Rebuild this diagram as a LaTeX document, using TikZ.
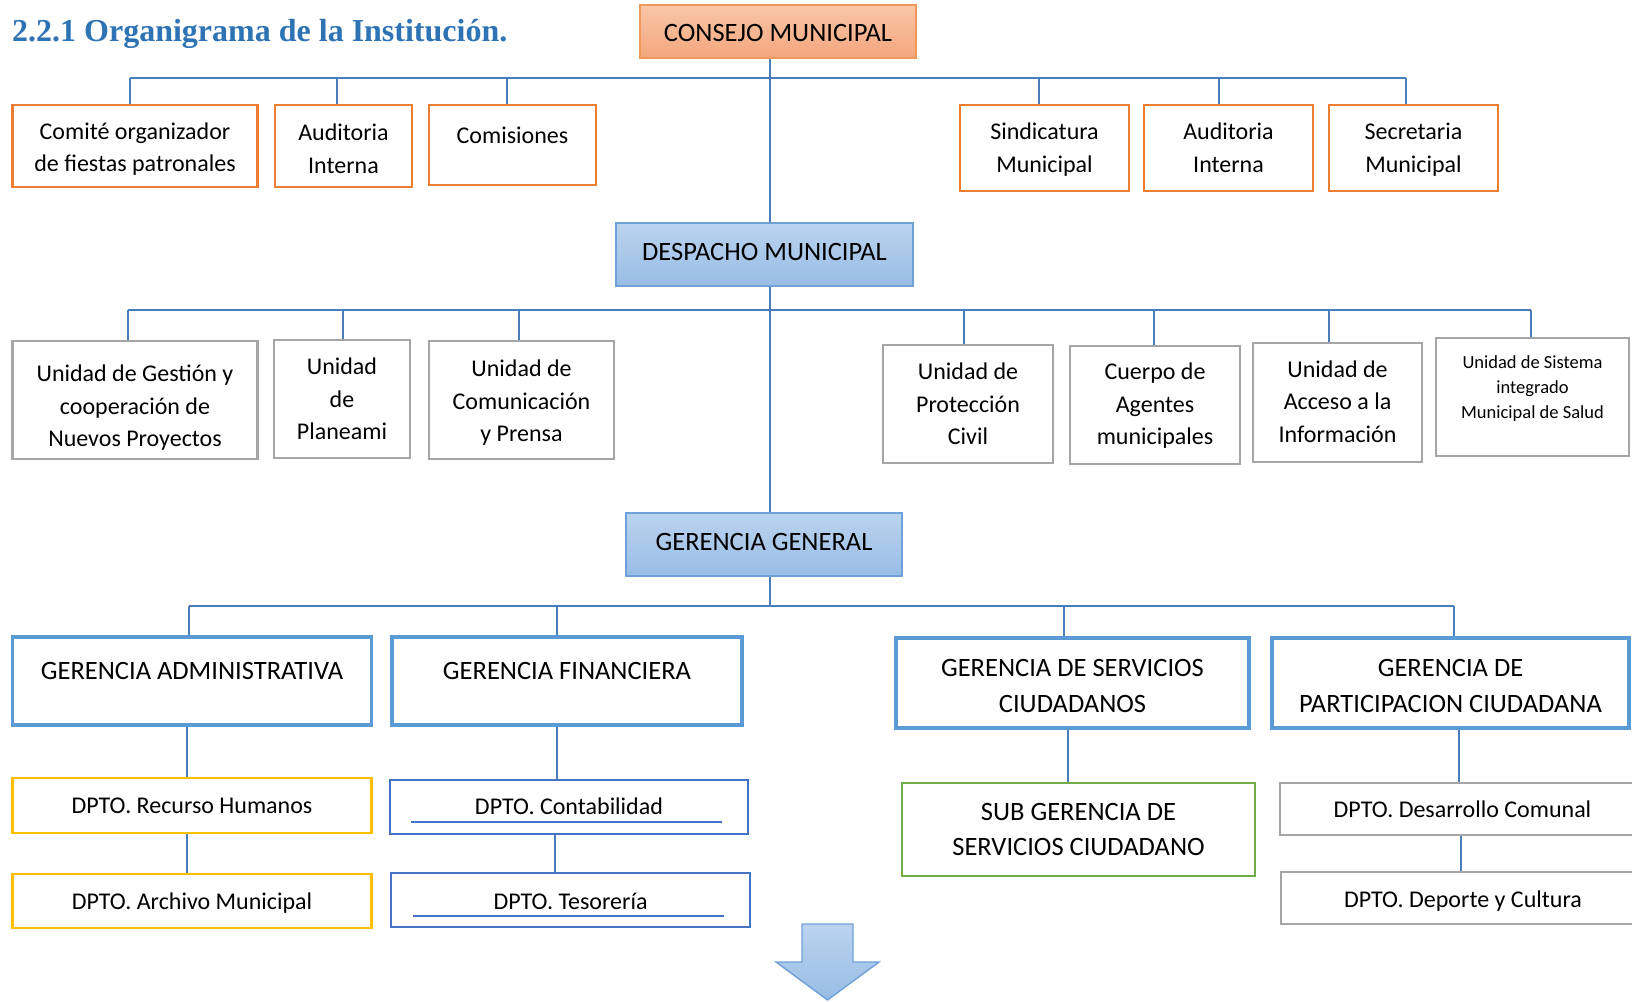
\documentclass[tikz,border=0pt]{standalone}
\usepackage{fontspec}
\setmainfont{Carlito}
\newfontfamily\titlefont{Liberation Serif}
\usetikzlibrary{calc}
\definecolor{conncol}{HTML}{4A7EBB}
\definecolor{orangeb}{HTML}{ED7D31}
\definecolor{grayb}{HTML}{A5A5A5}
\definecolor{blueb}{HTML}{5B9BD5}
\definecolor{darkblueb}{HTML}{4472C4}
\definecolor{yellowb}{HTML}{FFC000}
\definecolor{greenb}{HTML}{70AD47}
\definecolor{titleblue}{HTML}{2E74B5}
\definecolor{salmontop}{HTML}{F9C6A8}
\definecolor{salmonbot}{HTML}{F4A67C}
\definecolor{bluetop}{HTML}{BBD3EE}
\definecolor{bluebot}{HTML}{98BDE6}
\definecolor{blueedge}{HTML}{6FA0D8}
% #1 box style, #2 name, #3 cx, #4 cy, #5 width, #6 height, #7 font style, #8 text dy, #9 text
\newcommand{\orgbox}[9]{%
  \node[#1, minimum width=#5pt, minimum height=#6pt] (#2) at (#3,#4) {};
  \node[txt, #7] (#2-t) at ($(#2.center)+(0,#8)$) {#9};}
\begin{document}
\begin{tikzpicture}[x=1pt,y=-1pt,
  conn/.style={draw=conncol, line width=2.6pt},
  base/.style={rectangle, inner sep=0pt},
  obox/.style={base, draw=orangeb, line width=2.6pt, fill=white},
  gbox/.style={base, draw=grayb, line width=2.6pt, fill=white},
  bbox/.style={base, draw=blueb, line width=3.6pt, fill=white},
  ybox/.style={base, draw=yellowb, line width=2.6pt, fill=white},
  dbbox/.style={base, draw=darkblueb, line width=2.6pt, fill=white},
  grbox/.style={base, draw=greenb, line width=2.4pt, fill=white},
  salmonbox/.style={base, draw=orangeb!80, line width=1.4pt, top color=salmontop, bottom color=salmonbot},
  bluebox/.style={base, draw=blueedge, line width=1.4pt, top color=bluetop, bottom color=bluebot},
  txt/.style={align=center, inner sep=0pt},
  fbig/.style={font=\fontsize{26.5}{35.5}\selectfont},
  fnorm/.style={font=\fontsize{24}{32.5}\selectfont},
  fsmall/.style={font=\fontsize{18.5}{25}\selectfont},
  uline/.style={draw=darkblueb, line width=1.3pt}
]
\useasboundingbox (0,0) rectangle (1632,1001);
\fill[white] (0,0) rectangle (1632,1001);

% title
\node[txt, anchor=west, font=\titlefont\bfseries\fontsize{32}{36}\selectfont, text=titleblue] (title) at (12,34) {2.2.1 Organigrama de la Institución.};

% trunk coordinate
\coordinate (trk) at (770,0);

% top level
\orgbox{salmonbox}{consejo}{778}{31.5}{276}{53}{fbig}{1}{CONSEJO MUNICIPAL}
\orgbox{bluebox}{despacho}{764.5}{254.5}{297}{63}{fbig}{-3}{DESPACHO MUNICIPAL}
\orgbox{bluebox}{gg}{764}{544.5}{276}{63}{fbig}{-3}{GERENCIA GENERAL}

% row 1
\orgbox{obox}{comite}{135}{146}{245}{82}{fnorm}{3}{Comité organizador\\de fiestas patronales}
\orgbox{obox}{aud1}{343.5}{146}{137}{82}{fnorm}{3}{Auditoria\\Interna}
\orgbox{obox}{comis}{512.5}{145}{167}{80}{fnorm}{-10}{Comisiones}
\orgbox{obox}{sind}{1044.5}{148}{169}{86}{fnorm}{1.5}{Sindicatura\\Municipal}
\orgbox{obox}{aud2}{1228.5}{148}{169}{86}{fnorm}{0}{Auditoria\\Interna}
\orgbox{obox}{secret}{1413.5}{148}{169}{86}{fnorm}{1.5}{Secretaria\\Municipal}

% row 2
\orgbox{gbox}{gestion}{135}{400}{245}{118}{fnorm}{8}{Unidad de Gestión y\\cooperación de\\Nuevos Proyectos}
\orgbox{gbox}{planea}{342}{399}{136}{118}{fnorm}{0}{Unidad\\de\\Planeami}
\orgbox{gbox}{comun}{521.5}{400}{185}{118}{fnorm}{3}{Unidad de\\Comunicación\\y Prensa}
\orgbox{gbox}{proteccion}{968}{404}{170}{118}{fnorm}{0}{Unidad de\\Protección\\Civil}
\orgbox{gbox}{cuerpo}{1155}{405}{170}{118}{fnorm}{1}{Cuerpo de\\Agentes\\municipales}
\orgbox{gbox}{acceso}{1337.5}{402.5}{169}{119}{fnorm}{-1}{Unidad de\\Acceso a la\\Información}
\orgbox{gbox}{sistema}{1532.5}{397}{193}{118}{fsmall}{-8}{Unidad de Sistema\\integrado\\Municipal de Salud}

% row 3
\orgbox{bbox}{gadm}{192}{681}{359}{88}{fbig}{-10}{GERENCIA ADMINISTRATIVA}
\orgbox{bbox}{gfin}{567}{681}{350}{88}{fbig}{-10}{GERENCIA FINANCIERA}
\orgbox{bbox}{gsc}{1072.5}{683}{353}{90}{fbig}{3}{GERENCIA DE SERVICIOS\\CIUDADANOS}
\orgbox{bbox}{gpc}{1450.5}{683}{357}{90}{fbig}{3}{GERENCIA DE\\PARTICIPACION CIUDADANA}

% row 4
\orgbox{ybox}{rrhh}{192}{805.5}{359}{55}{fnorm}{0}{DPTO. Recurso Humanos}
\orgbox{ybox}{archivo}{192}{901}{359}{54}{fnorm}{2}{DPTO. Archivo Municipal}
\orgbox{dbbox}{contab}{569}{807}{358}{54}{fnorm}{-1}{DPTO. Contabilidad}
\orgbox{dbbox}{tesor}{570.5}{900}{359}{54}{fnorm}{1}{DPTO. Tesorería}
\orgbox{grbox}{subg}{1078.5}{829.5}{353}{93}{fbig}{0}{SUB GERENCIA DE\\SERVICIOS CIUDADANO}
\orgbox{gbox}{desarr}{1462.5}{809}{365}{52}{fnorm}{0}{DPTO. Desarrollo Comunal}
\orgbox{gbox}{deporte}{1463}{898}{364}{52}{fnorm}{3}{DPTO. Deporte y Cultura}

% underlines in Contabilidad / Tesoreria
\draw[uline] ([xshift=-158pt]contab.center |- 0,822) -- ([xshift=153pt]contab.center |- 0,822);
\draw[uline] ([xshift=-157.5pt]tesor.center |- 0,916) -- ([xshift=153.5pt]tesor.center |- 0,916);

% bus coordinates
\coordinate (b1) at (770,78);
\coordinate (b2) at (770,310);
\coordinate (b3) at (770,606);
\coordinate (x1) at (130,0);
\coordinate (x2) at (337,0);
\coordinate (x3) at (507,0);
\coordinate (x4) at (1039,0);
\coordinate (x5) at (1219,0);
\coordinate (x6) at (1406,0);
\coordinate (y1) at (128,0);
\coordinate (y2) at (343,0);
\coordinate (y3) at (519,0);
\coordinate (y4) at (964,0);
\coordinate (y5) at (1154,0);
\coordinate (y6) at (1329,0);
\coordinate (y7) at (1531,0);
\coordinate (z1) at (189,0);
\coordinate (z2) at (557,0);
\coordinate (z3) at (1064,0);
\coordinate (z4) at (1454,0);
\coordinate (w1) at (187,0);
\coordinate (w2) at (557,0);
\coordinate (w3) at (555,0);
\coordinate (w4) at (1068,0);
\coordinate (w5) at (1459,0);
\coordinate (w6) at (1461,0);

% trunk
\draw[conn] (consejo.south -| trk) -- (despacho.north -| trk);
\draw[conn] (despacho.south -| trk) -- (gg.north -| trk);
\draw[conn] (gg.south -| trk) -- (b3);

% bus 1
\draw[conn] (b1 -| x1) -- (b1 -| x6);
\foreach \c/\n in {x1/comite, x2/aud1, x3/comis, x4/sind, x5/aud2, x6/secret}
  \draw[conn] (b1 -| \c) -- (\n.north -| \c);

% bus 2
\draw[conn] (b2 -| y1) -- (b2 -| y7);
\foreach \c/\n in {y1/gestion, y2/planea, y3/comun, y4/proteccion, y5/cuerpo, y6/acceso, y7/sistema}
  \draw[conn] (b2 -| \c) -- (\n.north -| \c);

% bus 3
\draw[conn] (b3 -| z1) -- (b3 -| z4);
\foreach \c/\n in {z1/gadm, z2/gfin, z3/gsc, z4/gpc}
  \draw[conn] (b3 -| \c) -- (\n.north -| \c);

% lower connectors
\draw[conn] (gadm.south -| w1) -- (rrhh.north -| w1);
\draw[conn] (rrhh.south -| w1) -- (archivo.north -| w1);
\draw[conn] (gfin.south -| w2) -- (contab.north -| w2);
\draw[conn] (contab.south -| w3) -- (tesor.north -| w3);
\draw[conn] (gsc.south -| w4) -- (subg.north -| w4);
\draw[conn] (gpc.south -| w5) -- (desarr.north -| w5);
\draw[conn] (desarr.south -| w6) -- (deporte.north -| w6);

% down arrow
\draw[draw=blueedge, line width=1.4pt, top color=bluetop, bottom color=bluebot]
  (802,924) -- (853,924) -- (853,962) -- (879,962) -- (827.5,1000) -- (776,962) -- (802,962) -- cycle;
\end{tikzpicture}
\end{document}
